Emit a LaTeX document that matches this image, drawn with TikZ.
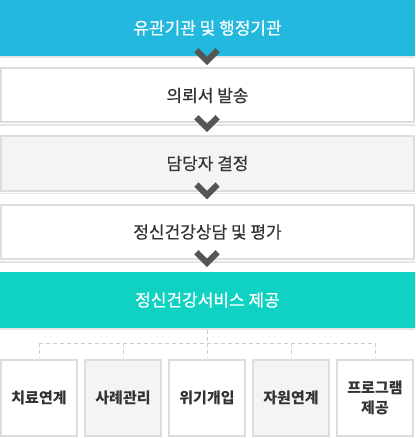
\documentclass[tikz,border=0pt]{standalone}
\usepackage{fontspec}
\newfontfamily\kr[FakeBold=0.5]{Noto Sans CJK KR}
\newfontfamily\krb{Noto Sans CJK KR}
\definecolor{topblue}{HTML}{23B9DF}
\definecolor{tealbox}{HTML}{10D2C3}
\definecolor{boxline}{HTML}{DDDDDD}
\definecolor{shadowc}{HTML}{E4E4E4}
\definecolor{greyfill}{HTML}{F4F4F4}
\definecolor{textc}{HTML}{333333}
\definecolor{chevc}{HTML}{555555}
\definecolor{dashc}{HTML}{CCCCCC}
\begin{document}
\begin{tikzpicture}[x=1pt,y=1pt,
  colorbox/.style={minimum width=415pt, minimum height=56pt, inner sep=0pt, text=white, font=\kr\fontsize{17}{20}\selectfont},
  stepbox/.style={draw=boxline, line width=2pt, minimum width=413pt, minimum height=54pt, inner sep=0pt, text=textc, font=\kr\fontsize{17}{20}\selectfont},
  subbox/.style={draw=boxline, line width=2pt, minimum width=76pt, minimum height=76pt, inner sep=0pt, align=center, text=textc, font=\krb\bfseries\fontsize{15}{20}\selectfont},
  chev/.style={draw=chevc, line width=6pt, line join=miter},
  dashline/.style={draw=dashc, line width=1pt, dash pattern=on 4pt off 3pt}]
\useasboundingbox (0,0) rectangle (415,-438);
\fill[white] (0,0) rectangle (415,-438);
% shadows under the steps
\fill[shadowc] (0,-56) rectangle (415,-58);
\fill[shadowc] (0,-124.5) rectangle (415,-126);
\fill[shadowc] (0,-192.5) rectangle (415,-194);
\fill[shadowc] (0,-261) rectangle (415,-262.5);
\fill[shadowc] (0,-328) rectangle (415,-330);
% steps
\node[colorbox, fill=topblue] (s0) at (207.5,-28) {유관기관 및 행정기관};
\node[stepbox, fill=white] (s1) at (207.5,-95.5) {의뢰서 발송};
\node[stepbox, fill=greyfill] (s2) at (207.5,-163.5) {담당자 결정};
\node[stepbox, fill=white] (s3) at (207.5,-232) {정신건강상담 및 평가};
\node[colorbox, fill=tealbox] (s4) at (207.5,-300) {정신건강서비스 제공};
% chevrons
\coordinate (v1) at (207,-60.8);
\coordinate (v2) at (207,-127.8);
\coordinate (v3) at (207,-195.1);
\coordinate (v4) at (207,-262.8);
\foreach \v in {v1,v2,v3,v4}
  \draw[chev] (\v) ++(-10.6,10.5) -- (\v) -- ++(10.6,10.5);
% services
\node[subbox, fill=white] (b1) at (39,-398) {치료연계};
\node[subbox, fill=greyfill] (b2) at (123,-398) {사례관리};
\node[subbox, fill=white] (b3) at (207,-398) {위기개입};
\node[subbox, fill=greyfill] (b4) at (291,-398) {자원연계};
\node[subbox, fill=white] (b5) at (375,-398) {프로그램\\제공};
% dashed connectors
\coordinate (bus) at (207,-343);
\draw[dashline] ([yshift=-2pt]s4.south -| bus) -- (bus);
\draw[dashline] (b1.north |- bus) -- (b5.north |- bus);
\foreach \b in {b1,b2,b3,b4,b5}
  \draw[dashline] (\b.north |- bus) -- ([yshift=1pt]\b.north);
\end{tikzpicture}
\end{document}
